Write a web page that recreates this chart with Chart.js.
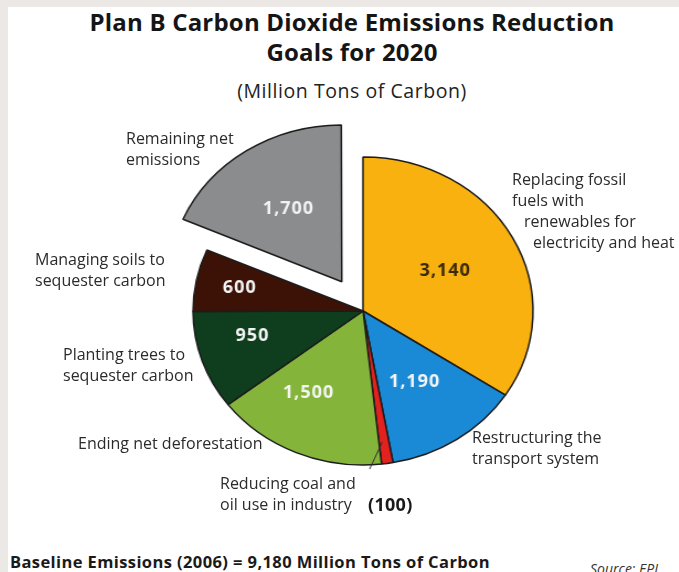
<!DOCTYPE html>
<html>
<head>
<meta charset="utf-8">
<script src="https://cdn.jsdelivr.net/npm/chart.js@4.4.1/dist/chart.umd.min.js"></script>
<style>
  html, body { margin: 0; padding: 0; }
  body { width: 679px; height: 572px; position: relative; overflow: hidden; background: #fff;
         font-family: "Open Sans", sans-serif; color: #2b2b2b; }
  .frame-top  { position: absolute; left: 0; top: 0; width: 679px; height: 7px; background: #ece8e6; }
  .frame-left { position: absolute; left: 0; top: 0; width: 8px; height: 572px; background: #ece8e6; }
  .t { position: absolute; font-size: 16px; line-height: 21px; white-space: nowrap; }
  #title { position: absolute; left: 0; width: 704px; top: 7px; text-align: center;
           font-weight: bold; font-size: 24px; line-height: 30px; letter-spacing: 0.2px; color: #151515; }
  #sub { position: absolute; left: 0; width: 704px; top: 77px; text-align: center;
         font-size: 19.5px; letter-spacing: 0.55px; color: #222; }
  #wrap { position: absolute; left: 162.7px; top: 111px; width: 400px; height: 400px;
          transform: scaleX(1.104); transform-origin: 50% 50%; }
  #baseline { position: absolute; left: 10px; top: 551px; font-weight: bold; font-size: 16.5px;
              letter-spacing: 0.4px; line-height: 21px; color: #1a1a1a; }
  #source { position: absolute; left: 590px; top: 559px; font-style: italic; font-size: 14px; color: #333; }
</style>
</head>
<body>
<div class="frame-top"></div>
<div class="frame-left"></div>

<div id="title">Plan B Carbon Dioxide Emissions Reduction<br>Goals for 2020</div>
<div id="sub">(Million Tons of Carbon)</div>

<div id="wrap"><canvas id="pie" width="400" height="400"></canvas></div>

<div class="t" style="left:126px;top:128px">Remaining net<br>emissions</div>
<div class="t" style="left:512px;top:169px">Replacing fossil<br>fuels with<br><span style="padding-left:12px">renewables for</span><br><span style="padding-left:21px">electricity and heat</span></div>
<div class="t" style="left:35px;top:249px">Managing soils to<br>sequester carbon</div>
<div class="t" style="left:63px;top:344px">Planting trees to<br>sequester carbon</div>
<div class="t" style="left:78px;top:433px">Ending net deforestation</div>
<div class="t" style="left:472px;top:427px">Restructuring the<br>transport system</div>
<div class="t" style="left:220px;top:473px">Reducing coal and<br>oil use in industry</div>
<div class="t" style="left:368px;top:494px;font-weight:bold;font-size:18px;letter-spacing:0.3px;color:#1a1a1a">(100)</div>

<div id="baseline">Baseline Emissions (2006) = 9,180 Million Tons of Carbon</div>
<div id="source">Source: EPI</div>

<script>
const categories = [
  'Replacing fossil fuels with renewables for electricity and heat',
  'Restructuring the transport system',
  'Reducing coal and oil use in industry',
  'Ending net deforestation',
  'Planting trees to sequester carbon',
  'Managing soils to sequester carbon',
  'Remaining net emissions'
];
const values = [3140, 1190, 100, 1500, 950, 600, 1700];
const sliceColors = ['#f8b10f', '#1b8ad6', '#e3211f', '#84b53a', '#0e3e1e', '#3c1207', '#8b8c8e'];
const labelColors = ['#3a2a0c', '#f4f4f4', '#fff', '#f4f4f4', '#f4f4f4', '#f4f4f4', '#f2f2f2'];
const labelRadius = [0.55, 0.55, 0, 0.62, 0.67, 0.74, 0.57];   // 0 = labelled outside
const labelTurn = [0, 0, 0, 8, 5, 0, 0];                        // degrees, clockwise
const SX = 1.104;   // canvas is stretched wide to get the oval pie

const valueText = {
  id: 'valueText',
  afterDatasetsDraw(chart) {
    const ctx = chart.ctx;
    const arcs = chart.getDatasetMeta(0).data;
    arcs.forEach((arc, i) => {
      const p = arc.getProps(['x', 'y', 'startAngle', 'endAngle', 'outerRadius'], true);
      const mid = (p.startAngle + p.endAngle) / 2;
      if (labelRadius[i]) {
        const a = mid + labelTurn[i] * Math.PI / 180;
        const off = (arc.options.offset || 0) / 4;   // arcs are shifted by offset/4
        const ox = Math.cos(mid) * off, oy = Math.sin(mid) * off;
        const r = p.outerRadius * labelRadius[i];
        ctx.save();
        ctx.translate(p.x + ox + Math.cos(a) * r, p.y + oy + Math.sin(a) * r);
        ctx.scale(1 / SX, 1);
        ctx.font = 'bold 18px "Open Sans"';
        ctx.letterSpacing = '1px';
        ctx.fillStyle = labelColors[i];
        ctx.textAlign = 'center';
        ctx.textBaseline = 'middle';
        ctx.fillText(values[i].toLocaleString('en-US'), 0, 0);
        ctx.restore();
      } else {
        // leader line for the thin slice
        const r = p.outerRadius * 0.86;
        const sx = p.x + Math.cos(mid) * r, sy = p.y + Math.sin(mid) * r;
        ctx.save();
        ctx.strokeStyle = '#333';
        ctx.lineWidth = 1;
        ctx.beginPath();
        ctx.moveTo(sx - 1.5, sy);
        ctx.lineTo(sx - 13, sy + 27);
        ctx.stroke();
        ctx.restore();
      }
    });
  }
};

new Chart(document.getElementById('pie').getContext('2d'), {
  type: 'pie',
  data: {
    labels: categories,
    datasets: [{
      data: values,
      backgroundColor: sliceColors,
      borderColor: '#1c1c1c',
      borderWidth: 1.5,
      offset: [0, 0, 0, 0, 0, 0, 140],
    }],
  },
  options: {
    responsive: false,
    animation: false,
    radius: 154,
    layout: { padding: 0 },
    plugins: { legend: { display: false }, tooltip: { enabled: false } },
  },
  plugins: [valueText],
});
</script>
</body>
</html>
